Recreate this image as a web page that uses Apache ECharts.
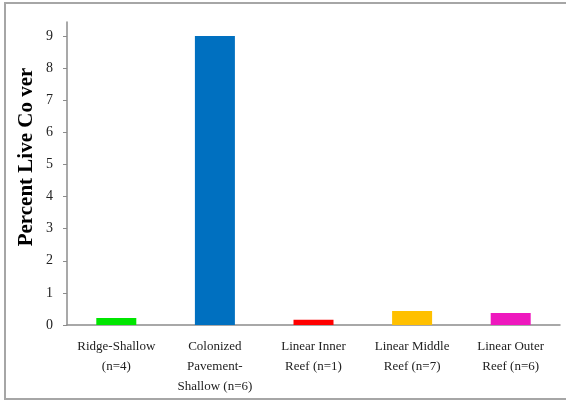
<!DOCTYPE html>
<html>
<head>
<meta charset="utf-8">
<script src="https://cdn.jsdelivr.net/npm/echarts@6/dist/echarts.min.js"></script>
<style>
    html, body { margin: 0; padding: 0; background: #fff; }
    #myChart { width: 566px; height: 402px; }
</style>
</head>
<body>
<div id="myChart"></div>
<script>
    // 分类与数值
    var categories = [
        'Ridge-Shallow\n(n=4)',
        'Colonized\nPavement-\nShallow (n=6)',
        'Linear Inner\nReef (n=1)',
        'Linear Middle\nReef (n=7)',
        'Linear Outer\nReef (n=6)'
    ];
    var values = [0.22, 9.0, 0.16, 0.44, 0.37];
    var barColors = ['#00E600', '#0070C0', '#FF0000', '#FFC000', '#EE18BE'];
    var yTicks = [0, 1, 2, 3, 4, 5, 6, 7, 8, 9];
    var yTitle = 'Percent Live Co ver';

    var font = '"Liberation Serif", "Times New Roman", serif';
    var axisGray = '#8c8c8c';

    var option = {
        backgroundColor: '#fff',
        animation: false,
        grid: {
            left: 67,
            right: 6,
            top: 22,
            bottom: 77
        },
        graphic: [{
            type: 'rect',
            shape: { x: 5, y: 3, width: 580, height: 396 },
            style: { fill: 'none', stroke: '#a6a6a6', lineWidth: 2 }
        }, {
            type: 'text',
            x: 27,
            y: 157,
            rotation: Math.PI / 2,
            style: {
                text: yTitle,
                font: 'bold 21px ' + font,
                fill: '#000',
                align: 'center',
                verticalAlign: 'middle'
            }
        }],
        xAxis: {
            type: 'category',
            data: categories,
            axisLine: { lineStyle: { color: axisGray, width: 1.5 } },
            axisTick: { alignWithLabel: false, length: 5, lineStyle: { color: axisGray } },
            axisLabel: {
                interval: 0,
                margin: 12,
                color: '#222',
                fontFamily: font,
                fontSize: 13,
                lineHeight: 20,
                verticalAlign: 'top'
            }
        },
        yAxis: {
            type: 'value',
            min: 0,
            max: 9.44,
            interval: 1,
            splitLine: { show: false },
            axisLine: { show: true, lineStyle: { color: axisGray, width: 1.5 } },
            axisTick: { show: true, length: 4, customValues: yTicks, lineStyle: { color: axisGray } },
            axisLabel: {
                customValues: yTicks,
                margin: 14,
                color: '#222',
                fontFamily: font,
                fontSize: 14
            }
        },
        series: [{
            type: 'bar',
            barWidth: 40,
            data: values.map(function (v, i) {
                return { value: v, itemStyle: { color: barColors[i] } };
            })
        }]
    };

    var myChart = echarts.init(document.getElementById('myChart'));
    myChart.setOption(option);
</script>
</body>
</html>
